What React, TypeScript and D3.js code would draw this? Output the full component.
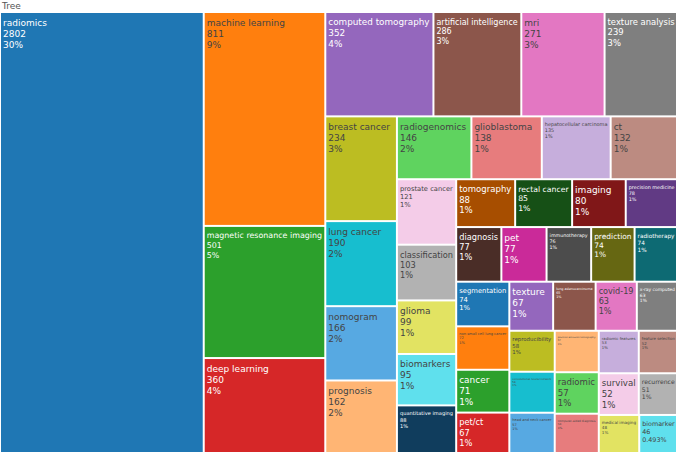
import { useEffect, useRef } from 'react'
import * as d3 from 'd3'

const rootLabel = 'Tree'

const labels = [
  'radiomics', 'machine learning', 'magnetic resonance imaging', 'deep learning',
  'computed tomography', 'artificial intelligence', 'mri', 'texture analysis',
  'breast cancer', 'lung cancer', 'nomogram', 'prognosis', 'radiogenomics',
  'glioblastoma', 'hepatocellular carcinoma', 'ct', 'prostate cancer',
  'classification', 'glioma', 'biomarkers', 'quantitative imaging', 'tomography',
  'rectal cancer', 'imaging', 'precision medicine', 'diagnosis', 'pet',
  'immunotherapy', 'prediction', 'radiotherapy', 'segmentation',
  'non-small cell lung cancer', 'cancer', 'pet/ct', 'texture', 'lung adenocarcinoma',
  'covid-19', 'x-ray computed', 'reproducibility', 'convolutional neural network',
  'head and neck cancer', 'positron emission tomography', 'radiomic',
  'computer-aided diagnosis', 'radiomic features', 'feature selection', 'survival',
  'recurrence', 'medical imaging', 'biomarker',
]

const values = [
  2802, 811, 501, 360, 352, 286, 271, 239, 234, 190, 166, 162, 146, 138, 135, 132,
  121, 103, 99, 95, 88, 88, 85, 80, 78, 77, 77, 76, 74, 74, 74, 72, 71, 67, 67, 65,
  63, 63, 58, 58, 57, 57, 57, 54, 53, 52, 52, 51, 48, 46,
]

const baseColors = [
  '#1f77b4', '#ff7f0e', '#2ca02c', '#d62728', '#9467bd',
  '#8c564b', '#e377c2', '#7f7f7f', '#bcbd22', '#17becf',
]

const WIDTH = 676
const HEIGHT = 453

// plotly-ish extended colorway: base, lighter, darker
function extendColors(list: string[]) {
  const shift = (c: string, d: number) => {
    const h = d3.hsl(c)
    h.l = Math.max(0, Math.min(1, h.l + d))
    return h.formatHex()
  }
  return [...list, ...list.map(c => shift(c, 0.2)), ...list.map(c => shift(c, -0.2))]
}

function isLight(c: string) {
  const r = d3.rgb(c)
  return (r.r * 299 + r.g * 587 + r.b * 114) / 1000 >= 128
}

function formatPct(v: number) {
  const p = v * 100
  if (Math.round(p) >= 1) return `${Math.round(p)}%`
  return `${p.toPrecision(3)}%`
}

interface Leaf { label: string; value: number; idx: number }

export default function App() {
  const svgRef = useRef<SVGSVGElement>(null)

  useEffect(() => {
    if (!svgRef.current) return
    const svg = d3.select(svgRef.current)
    svg.selectAll('*').remove()

    const colors = extendColors(baseColors)
    const total = d3.sum(values)
    const fontFamily = '"DejaVu Sans", Verdana, sans-serif'
    const fontSize = 9
    const lineH = 11
    const padX = 2
    const padY = 4.5

    const x0 = 1, y0 = 13, x1 = 677, y1 = 452

    svg.append('rect').attr('width', WIDTH).attr('height', HEIGHT).attr('fill', '#fff')

    svg.append('text')
      .attr('x', 2)
      .attr('y', 9)
      .attr('font-family', fontFamily)
      .attr('font-size', 9)
      .attr('fill', '#555')
      .text(rootLabel)

    const leaves: Leaf[] = labels.map((label, idx) => ({ label, value: values[idx], idx }))
    const root = d3.hierarchy<any>({ children: leaves })
      .sum((d: any) => d.value ?? 0)
      .sort((a, b) => (b.value ?? 0) - (a.value ?? 0))

    d3.treemap<any>()
      .tile(d3.treemapSquarify.ratio(1))
      .size([x1 - x0, y1 - y0])
      .paddingInner(2)(root)

    const g = svg.append('g').attr('transform', `translate(${x0},${y0})`)

    root.leaves().forEach((n: any) => {
      const d = n.data as Leaf
      const fill = colors[d.idx % colors.length]
      const w = n.x1 - n.x0
      const h = n.y1 - n.y0
      g.append('rect')
        .attr('x', n.x0)
        .attr('y', n.y0)
        .attr('width', w)
        .attr('height', h)
        .attr('fill', fill)

      const t = g.append('text')
        .attr('font-family', fontFamily)
        .attr('font-size', fontSize)
        .attr('fill', isLight(fill) ? '#444' : '#fff')
      const lines = [d.label, String(d.value), formatPct(d.value / total)]
      lines.forEach((s, k) => {
        t.append('tspan').attr('x', 0).attr('y', k * lineH).text(s)
      })
      const bb = (t.node() as SVGTextElement).getBBox()
      const s = Math.min(1, (w - 2 * padX) / bb.width, (h - 2 * padY) / bb.height)
      t.attr('transform',
        `translate(${n.x0 + padX - bb.x * s},${n.y0 + padY - bb.y * s}) scale(${s})`)
    })
  }, [])

  return (
    <svg
      ref={svgRef}
      width={WIDTH}
      height={HEIGHT}
      style={{ position: 'absolute', left: 0, top: 0 }}
    />
  )
}
